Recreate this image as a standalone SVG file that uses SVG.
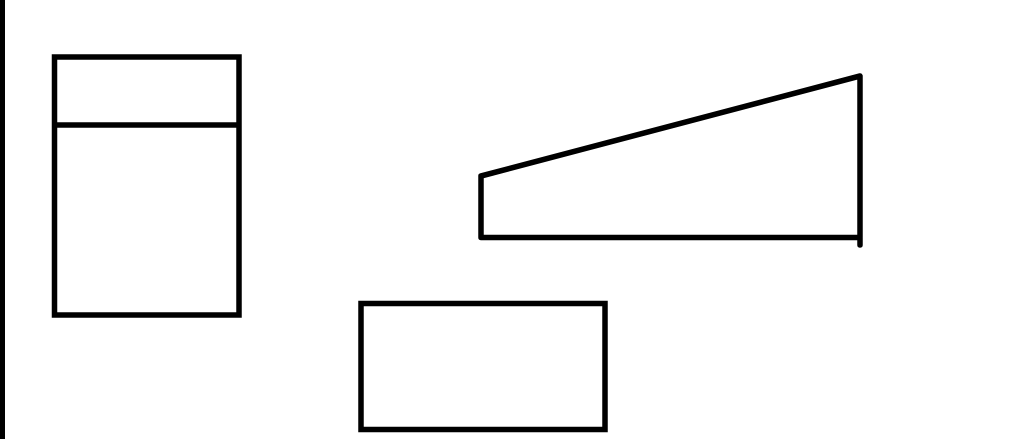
<svg xmlns="http://www.w3.org/2000/svg" width="1024" height="439" viewBox="0 0 1024 439">
<style>
.s{fill:none;stroke:#000;stroke-width:5.5}
.r{fill:none;stroke:#000;stroke-width:5.5;stroke-linecap:round;stroke-linejoin:round}
</style>
<rect width="1024" height="439" fill="#fff"/>
<rect x="0" y="0" width="5" height="439" fill="#000"/>
<g id="node-left">
<rect class="s" x="54.5" y="57" width="184.5" height="258"/>
<line class="s" x1="54.5" y1="125" x2="239" y2="125"/>
</g>
<g id="node-trapezoid">
<path class="r" d="M481,176 L860,76 L860,245 M860,237.5 L481,237.5 L481,176"/>
</g>
<g id="node-bottom">
<rect class="s" x="361" y="303.5" width="244" height="126"/>
</g>
<g id="connectors"></g>
</svg>
